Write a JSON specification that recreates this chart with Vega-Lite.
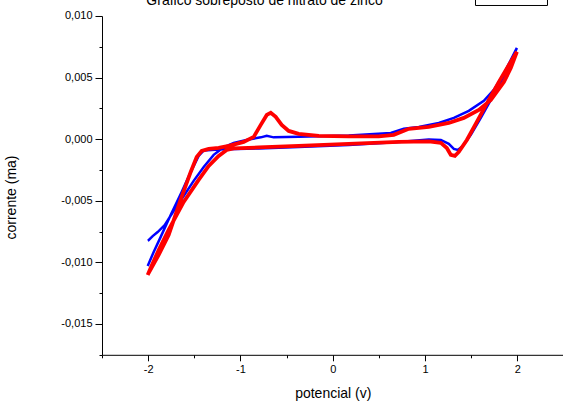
{
  "$schema": "https://vega.github.io/schema/vega-lite/v6.json",
  "autosize": "none",
  "padding": {"left": 102, "top": 16, "right": 0, "bottom": 52},
  "width": 461.5,
  "height": 338.8,
  "background": "white",
  "config": {
    "view": {"stroke": null},
    "font": "Liberation Sans",
    "axis": {"grid": false, "domainColor": "black", "tickColor": "black", "labelColor": "black", "titleColor": "black", "labelFont": "Liberation Sans", "titleFont": "Liberation Sans", "titleFontWeight": "normal", "labelFontSize": 11, "titleFontSize": 14}
  },
  "datasets": {
    "cv": [
      {"s": "azul", "i": 0, "v": -2.005, "c": -0.01029},
      {"s": "azul", "i": 1, "v": -1.940, "c": -0.00915},
      {"s": "azul", "i": 2, "v": -1.864, "c": -0.00793},
      {"s": "azul", "i": 3, "v": -1.756, "c": -0.00615},
      {"s": "azul", "i": 4, "v": -1.637, "c": -0.00428},
      {"s": "azul", "i": 5, "v": -1.528, "c": -0.00249},
      {"s": "azul", "i": 6, "v": -1.453, "c": -0.00136},
      {"s": "azul", "i": 7, "v": -1.398, "c": -0.00091},
      {"s": "azul", "i": 8, "v": -1.236, "c": -0.00083},
      {"s": "azul", "i": 9, "v": -0.802, "c": -0.00075},
      {"s": "azul", "i": 10, "v": -0.369, "c": -0.00063},
      {"s": "azul", "i": 11, "v": 0.173, "c": -0.00047},
      {"s": "azul", "i": 12, "v": 0.715, "c": -0.00022},
      {"s": "azul", "i": 13, "v": 1.041, "c": -0.00002},
      {"s": "azul", "i": 14, "v": 1.171, "c": -0.00006},
      {"s": "azul", "i": 15, "v": 1.257, "c": -0.00038},
      {"s": "azul", "i": 16, "v": 1.312, "c": -0.00079},
      {"s": "azul", "i": 17, "v": 1.355, "c": -0.00087},
      {"s": "azul", "i": 18, "v": 1.409, "c": -0.00054},
      {"s": "azul", "i": 19, "v": 1.496, "c": 0.00035},
      {"s": "azul", "i": 20, "v": 1.604, "c": 0.00173},
      {"s": "azul", "i": 21, "v": 1.713, "c": 0.00319},
      {"s": "azul", "i": 22, "v": 1.821, "c": 0.00465},
      {"s": "azul", "i": 23, "v": 1.919, "c": 0.00611},
      {"s": "azul", "i": 24, "v": 1.995, "c": 0.00741},
      {"s": "azul", "i": 25, "v": 1.930, "c": 0.00644},
      {"s": "azul", "i": 26, "v": 1.854, "c": 0.00530},
      {"s": "azul", "i": 27, "v": 1.745, "c": 0.00400},
      {"s": "azul", "i": 28, "v": 1.637, "c": 0.00311},
      {"s": "azul", "i": 29, "v": 1.474, "c": 0.00230},
      {"s": "azul", "i": 30, "v": 1.312, "c": 0.00173},
      {"s": "azul", "i": 31, "v": 1.149, "c": 0.00132},
      {"s": "azul", "i": 32, "v": 0.932, "c": 0.00100},
      {"s": "azul", "i": 33, "v": 0.770, "c": 0.00084},
      {"s": "azul", "i": 34, "v": 0.629, "c": 0.00051},
      {"s": "azul", "i": 35, "v": 0.173, "c": 0.00031},
      {"s": "azul", "i": 36, "v": -0.369, "c": 0.00019},
      {"s": "azul", "i": 37, "v": -0.640, "c": 0.00015},
      {"s": "azul", "i": 38, "v": -0.715, "c": 0.00027},
      {"s": "azul", "i": 39, "v": -0.780, "c": 0.00015},
      {"s": "azul", "i": 40, "v": -0.911, "c": -0.00002},
      {"s": "azul", "i": 41, "v": -1.073, "c": -0.00030},
      {"s": "azul", "i": 42, "v": -1.192, "c": -0.00071},
      {"s": "azul", "i": 43, "v": -1.290, "c": -0.00127},
      {"s": "azul", "i": 44, "v": -1.398, "c": -0.00225},
      {"s": "azul", "i": 45, "v": -1.507, "c": -0.00338},
      {"s": "azul", "i": 46, "v": -1.615, "c": -0.00461},
      {"s": "azul", "i": 47, "v": -1.724, "c": -0.00583},
      {"s": "azul", "i": 48, "v": -1.821, "c": -0.00697},
      {"s": "azul", "i": 49, "v": -1.897, "c": -0.00754},
      {"s": "azul", "i": 50, "v": -1.951, "c": -0.00787},
      {"s": "azul", "i": 51, "v": -1.995, "c": -0.00820},
      {"s": "azul", "i": 52, "v": -2.005, "c": -0.00823},
      {"s": "vermelho", "i": 0, "v": -1.995, "c": -0.01086},
      {"s": "vermelho", "i": 1, "v": -1.886, "c": -0.00939},
      {"s": "vermelho", "i": 2, "v": -1.778, "c": -0.00777},
      {"s": "vermelho", "i": 3, "v": -1.637, "c": -0.00468},
      {"s": "vermelho", "i": 4, "v": -1.539, "c": -0.00266},
      {"s": "vermelho", "i": 5, "v": -1.474, "c": -0.00144},
      {"s": "vermelho", "i": 6, "v": -1.420, "c": -0.00095},
      {"s": "vermelho", "i": 7, "v": -1.344, "c": -0.00078},
      {"s": "vermelho", "i": 8, "v": -1.236, "c": -0.00071},
      {"s": "vermelho", "i": 9, "v": -1.127, "c": -0.00054},
      {"s": "vermelho", "i": 10, "v": -0.965, "c": -0.00022},
      {"s": "vermelho", "i": 11, "v": -0.856, "c": 0.00019},
      {"s": "vermelho", "i": 12, "v": -0.780, "c": 0.00116},
      {"s": "vermelho", "i": 13, "v": -0.715, "c": 0.00197},
      {"s": "vermelho", "i": 14, "v": -0.672, "c": 0.00214},
      {"s": "vermelho", "i": 15, "v": -0.618, "c": 0.00181},
      {"s": "vermelho", "i": 16, "v": -0.553, "c": 0.00116},
      {"s": "vermelho", "i": 17, "v": -0.477, "c": 0.00067},
      {"s": "vermelho", "i": 18, "v": -0.369, "c": 0.00043},
      {"s": "vermelho", "i": 19, "v": -0.152, "c": 0.00027},
      {"s": "vermelho", "i": 20, "v": 0.173, "c": 0.00023},
      {"s": "vermelho", "i": 21, "v": 0.499, "c": 0.00023},
      {"s": "vermelho", "i": 22, "v": 0.661, "c": 0.00035},
      {"s": "vermelho", "i": 23, "v": 0.824, "c": 0.00084},
      {"s": "vermelho", "i": 24, "v": 1.041, "c": 0.00100},
      {"s": "vermelho", "i": 25, "v": 1.257, "c": 0.00132},
      {"s": "vermelho", "i": 26, "v": 1.420, "c": 0.00173},
      {"s": "vermelho", "i": 27, "v": 1.583, "c": 0.00238},
      {"s": "vermelho", "i": 28, "v": 1.713, "c": 0.00319},
      {"s": "vermelho", "i": 29, "v": 1.854, "c": 0.00465},
      {"s": "vermelho", "i": 30, "v": 1.930, "c": 0.00579},
      {"s": "vermelho", "i": 31, "v": 1.995, "c": 0.00710},
      {"s": "vermelho", "i": 32, "v": 1.908, "c": 0.00603},
      {"s": "vermelho", "i": 33, "v": 1.800, "c": 0.00465},
      {"s": "vermelho", "i": 34, "v": 1.691, "c": 0.00319},
      {"s": "vermelho", "i": 35, "v": 1.561, "c": 0.00140},
      {"s": "vermelho", "i": 36, "v": 1.453, "c": -0.00006},
      {"s": "vermelho", "i": 37, "v": 1.366, "c": -0.00103},
      {"s": "vermelho", "i": 38, "v": 1.323, "c": -0.00136},
      {"s": "vermelho", "i": 39, "v": 1.279, "c": -0.00128},
      {"s": "vermelho", "i": 40, "v": 1.236, "c": -0.00071},
      {"s": "vermelho", "i": 41, "v": 1.171, "c": -0.00030},
      {"s": "vermelho", "i": 42, "v": 1.041, "c": -0.00018},
      {"s": "vermelho", "i": 43, "v": 0.715, "c": -0.00022},
      {"s": "vermelho", "i": 44, "v": 0.173, "c": -0.00038},
      {"s": "vermelho", "i": 45, "v": -0.369, "c": -0.00054},
      {"s": "vermelho", "i": 46, "v": -0.802, "c": -0.00067},
      {"s": "vermelho", "i": 47, "v": -1.073, "c": -0.00075},
      {"s": "vermelho", "i": 48, "v": -1.149, "c": -0.00087},
      {"s": "vermelho", "i": 49, "v": -1.236, "c": -0.00136},
      {"s": "vermelho", "i": 50, "v": -1.344, "c": -0.00217},
      {"s": "vermelho", "i": 51, "v": -1.453, "c": -0.00330},
      {"s": "vermelho", "i": 52, "v": -1.615, "c": -0.00509},
      {"s": "vermelho", "i": 53, "v": -1.778, "c": -0.00736},
      {"s": "vermelho", "i": 54, "v": -1.886, "c": -0.00899},
      {"s": "vermelho", "i": 55, "v": -1.973, "c": -0.01045},
      {"s": "vermelho", "i": 56, "v": -2.005, "c": -0.01102}
    ]
  },
  "data": {"name": "cv"},
  "resolve": {"axis": {"x": "independent", "y": "independent"}},
  "layer": [
    {
      "transform": [{"filter": "datum.s === 'azul'"}],
      "mark": {"type": "line", "strokeWidth": 2.5, "clip": false},
      "encoding": {
        "x": {"field": "v", "type": "quantitative", "scale": {"domain": [-2.5, 2.5], "nice": false, "zero": false},
          "axis": {"orient": "bottom", "title": "potencial (v)", "values": [-2, -1, 0, 1, 2], "tickSize": 6, "labelPadding": 3, "titlePadding": 12, "labelExpr": "(datum.value < 0 ? '-' : '') + format(abs(datum.value), 'd')"}},
        "y": {"field": "c", "type": "quantitative", "scale": {"domain": [-0.0175, 0.01], "nice": false, "zero": false},
          "axis": {"orient": "left", "title": "corrente (ma)", "values": [-0.015, -0.01, -0.005, 0, 0.005, 0.01], "tickSize": 7, "labelPadding": 3, "titleX": -84, "titleY": 181, "labelExpr": "(datum.value < -0.0000001 ? '-' : '') + replace(format(abs(datum.value), '.3f'), '.', ',')"}},
        "order": {"field": "i", "type": "quantitative"},
        "color": {"field": "s", "type": "nominal", "scale": {"domain": ["azul", "vermelho"], "range": ["#0000ff", "#ff0000"]},
          "legend": {"title": null, "orient": "none", "legendX": 373, "legendY": -45, "strokeColor": "black", "fillColor": "white", "padding": 5, "symbolType": "square", "symbolSize": 100, "symbolOpacity": 0, "labelOpacity": 0, "labelOffset": 4, "labelLimit": 48, "labelFontSize": 11}}
      }
    },
    {
      "transform": [{"filter": "datum.s === 'vermelho'"}],
      "mark": {"type": "line", "strokeWidth": 3.8, "clip": false},
      "encoding": {
        "x": {"field": "v", "type": "quantitative", "axis": {"orient": "bottom", "title": null, "values": [-2.5, -1.5, -0.5, 0.5, 1.5, 2.5], "tickSize": 3, "labels": false, "domain": false}},
        "y": {"field": "c", "type": "quantitative", "axis": {"orient": "left", "title": "Grafico sobreposto de nitrato de zinco", "titleAngle": 0, "titleX": 162, "titleY": -11, "titleAlign": "center", "titleBaseline": "alphabetic", "titleFontSize": 14, "titleFontWeight": "normal", "values": [-0.0175, -0.0125, -0.0075, -0.0025, 0.0025, 0.0075], "tickSize": 3, "labels": false, "domain": false}},
        "order": {"field": "i", "type": "quantitative"},
        "color": {"field": "s", "type": "nominal"}
      }
    }
  ]
}
